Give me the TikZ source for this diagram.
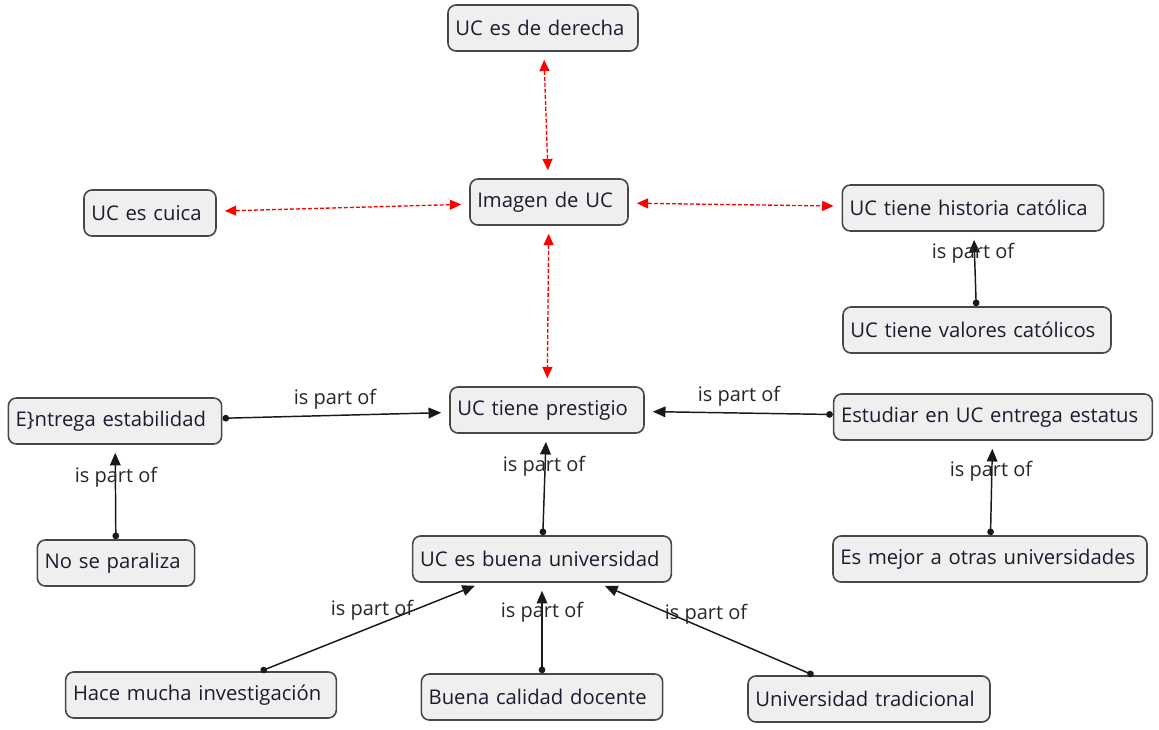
\documentclass[tikz,border=0pt]{standalone}
\usepackage{fontspec}
\setmainfont{Open Sans}
\usetikzlibrary{arrows.meta}
\definecolor{boxfill}{HTML}{EFEFEF}
\definecolor{boxline}{HTML}{474747}
\definecolor{txt}{HTML}{1C1C30}
\begin{document}
\begin{tikzpicture}[x=0.75pt,y=-0.75pt,
  concept/.style={draw=boxline, line width=1.2pt, fill=boxfill, rounded corners=6pt,
    minimum height=34.5pt, inner xsep=5.5pt, inner ysep=0pt, align=left,
    font=\fontsize{15.2}{18}\selectfont, text=txt},
  lab/.style={font=\fontsize{15}{18}\selectfont, text=black!85, inner sep=1pt},
  red/.style={draw=red, line width=1pt, dash pattern=on 3pt off 1.5pt,
    {Triangle[length=8.5pt,width=7.5pt]}-{Triangle[length=8.5pt,width=7.5pt]},
    shorten <=6pt, shorten >=6pt},
  part/.style={draw=black!90, line width=1.1pt,
    {Circle[length=5pt]}-{Triangle[length=9.5pt,width=8pt]}, shorten >=6pt},
]
\useasboundingbox (0,0) rectangle (1159,730);

\node[concept, text width=131.5pt] (derecha) at (543,28) {UC es de derecha};
\node[concept, text width=107.5pt] (imagen) at (549,202) {Imagen de UC};
\node[concept, text width=88pt] (cuica) at (150,213) {UC es cuica};
\node[concept, text width=185pt] (historia) at (973,208) {UC tiene historia católica};
\node[concept, text width=190pt] (valores) at (977,330) {UC tiene valores católicos};
\node[concept, text width=134.5pt] (prestigio) at (547,410) {UC tiene prestigio};
\node[concept, text width=149pt] (entrega) at (115,421) {E\}ntrega estabilidad};
\node[concept, text width=228pt] (estatus) at (993,417) {Estudiar en UC entrega estatus};
\node[concept, text width=107pt] (paraliza) at (116,563) {No se paraliza};
\node[concept, text width=183pt] (buena) at (542,559) {UC es buena universidad};
\node[concept, text width=224.5pt] (mejor) at (990,559) {Es mejor a otras universidades};
\node[concept, text width=192pt] (hace) at (201,695) {Hace mucha investigación};
\node[concept, text width=170pt] (calidad) at (542,697) {Buena calidad docente};
\node[concept, text width=170.5pt] (tradicional) at (869,699) {Universidad tradicional};

% red dashed links
\draw[red] (derecha) -- (imagen);
\draw[red] (cuica) -- (imagen);
\draw[red] (imagen) -- (historia);
\draw[red] (imagen) -- (prestigio);

% is part of links
\draw[part] (valores) -- (historia);
\draw[part] (entrega) -- (prestigio);
\draw[part] (estatus) -- (prestigio);
\draw[part] (paraliza) -- (entrega);
\draw[part] (buena) -- (prestigio);
\draw[part] (mejor) -- (estatus);
\draw[part] (hace) -- (buena);
\draw[part] (calidad) -- (buena);
\draw[part] (tradicional) -- (buena);

% labels
\node[lab] (l1) at (973,253) {is part of};
\node[lab] (l2) at (335,399) {is part of};
\node[lab] (l3) at (739,396) {is part of};
\node[lab] (l4) at (116,477) {is part of};
\node[lab] (l5) at (544,466) {is part of};
\node[lab] (l6) at (991,471) {is part of};
\node[lab] (l7) at (372,610) {is part of};
\node[lab] (l8) at (542,612) {is part of};
\node[lab] (l9) at (706,614) {is part of};
\end{tikzpicture}
\end{document}
